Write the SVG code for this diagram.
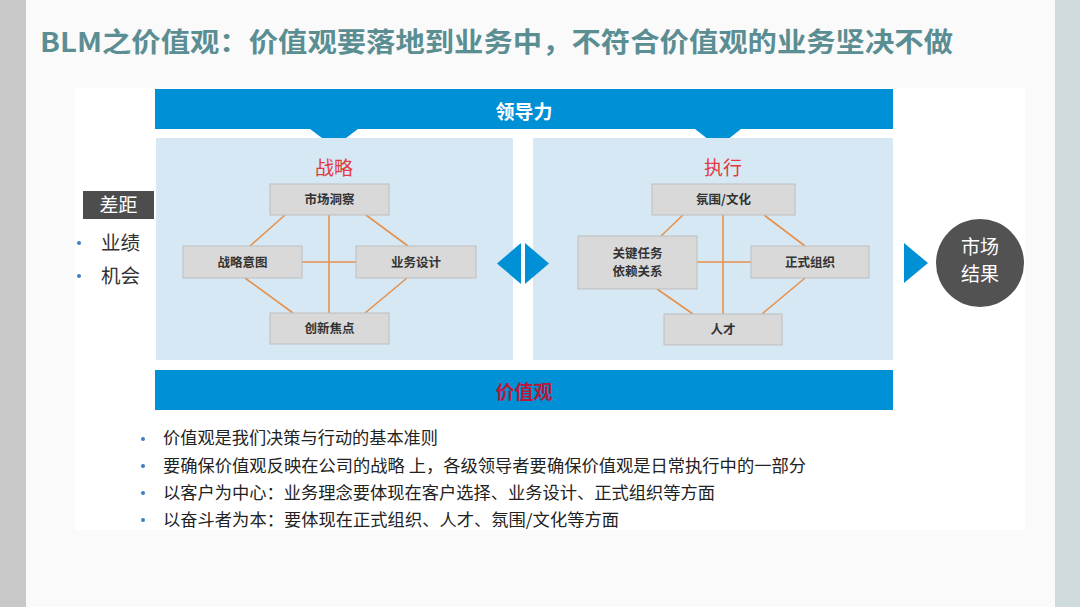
<svg xmlns="http://www.w3.org/2000/svg" width="1080" height="607" viewBox="0 0 1080 607">
<defs>
<style>
.cjk{font-family:"Noto Sans CJK SC","Noto Sans",sans-serif}
.box{fill:#d9d9d9;stroke:#bdbdbd;stroke-width:1}
.blab{font-family:"Noto Sans CJK SC",sans-serif;font-size:12.5px;font-weight:bold;fill:#333;text-anchor:middle}
.ln{stroke:#e8914a;stroke-width:1.6;fill:none}
.panel{fill:#d5e8f4}
.bar{fill:#0090d6}
.tri{fill:#0090d6}
.bul{font-family:"Noto Sans CJK SC",sans-serif;font-size:16.5px;fill:#222}
.dot{fill:#3a7fc1}
</style>
</defs>
<rect x="0" y="0" width="1080" height="607" fill="#fafafa"/>
<rect x="0" y="0" width="26" height="607" fill="#c8c8c8"/>
<rect x="1055" y="0" width="25" height="607" fill="#cfdadd"/>
<rect x="75" y="88" width="950" height="442" fill="#ffffff"/>
<text x="40" y="52" class="cjk" font-size="27" font-weight="bold" fill="#5a8e92" textLength="913" lengthAdjust="spacingAndGlyphs">BLM之价值观：价值观要落地到业务中，不符合价值观的业务坚决不做</text>

<g id="leadership">
<rect class="bar" x="155" y="89" width="738" height="40"/>
<polygon class="tri" points="310,129 358,129 334,147"/>
<polygon class="tri" points="695,129 741,129 718,147"/>
<text x="524" y="119" class="cjk" font-size="19" font-weight="bold" fill="#fff" text-anchor="middle">领导力</text>
</g>

<g id="values-bar">
<rect class="bar" x="155" y="370" width="738" height="40"/>
<text x="524" y="399" class="cjk" font-size="19" font-weight="bold" fill="#b8183a" text-anchor="middle">价值观</text>
</g>

<g id="strategy-panel">
<rect class="panel" x="156" y="138" width="357" height="222"/>
<text x="334" y="175" class="cjk" font-size="19" fill="#e03a3e" text-anchor="middle">战略</text>
</g>
<g id="execution-panel">
<rect class="panel" x="533" y="138" width="360" height="222"/>
<text x="723" y="175" class="cjk" font-size="19" fill="#e03a3e" text-anchor="middle">执行</text>
</g>

<g id="connectors">
<line class="ln" x1="329" y1="215" x2="329" y2="313"/>
<line class="ln" x1="302" y1="262" x2="356" y2="262"/>
<line class="ln" x1="285" y1="215" x2="250" y2="246"/>
<line class="ln" x1="366" y1="215" x2="408" y2="246"/>
<line class="ln" x1="245" y1="278" x2="293" y2="313"/>
<line class="ln" x1="407" y1="278" x2="365" y2="313"/>
<line class="ln" x1="723" y1="215" x2="723" y2="314"/>
<line class="ln" x1="697" y1="262" x2="751" y2="262"/>
<line class="ln" x1="683" y1="215" x2="661" y2="236"/>
<line class="ln" x1="764" y1="215" x2="805" y2="246"/>
<line class="ln" x1="657" y1="289" x2="693" y2="314"/>
<line class="ln" x1="805" y1="278" x2="762" y2="314"/>
</g>

<g id="n-market-insight"><rect class="box" x="270" y="184" width="119" height="31"/><text class="blab" x="329.5" y="204">市场洞察</text></g>
<g id="n-strategic-intent"><rect class="box" x="183" y="246" width="119" height="32"/><text class="blab" x="242.5" y="266.5">战略意图</text></g>
<g id="n-business-design"><rect class="box" x="356" y="246" width="120" height="32"/><text class="blab" x="416" y="266.5">业务设计</text></g>
<g id="n-innovation"><rect class="box" x="270" y="313" width="119" height="31"/><text class="blab" x="329.5" y="333">创新焦点</text></g>

<g id="n-culture"><rect class="box" x="652" y="184" width="143" height="31"/><text class="blab" x="723.5" y="204">氛围/文化</text></g>
<g id="n-key-tasks"><rect class="box" x="578" y="236" width="119" height="53"/><text class="blab" x="637.5" y="258">关键任务</text><text class="blab" x="637.5" y="276">依赖关系</text></g>
<g id="n-formal-org"><rect class="box" x="751" y="246" width="118" height="32"/><text class="blab" x="810" y="266.5">正式组织</text></g>
<g id="n-talent"><rect class="box" x="664" y="314" width="118" height="31"/><text class="blab" x="723" y="334">人才</text></g>

<g id="double-arrow">
<polygon class="tri" points="521,243 521,284 497,263.5"/>
<polygon class="tri" points="525,243 525,284 549,263.5"/>
</g>
<g id="arrow-result">
<polygon class="tri" points="904,243 904,283 928,263"/>
</g>

<g id="n-market-result">
<circle cx="980" cy="263" r="44" fill="#525252"/>
<text x="980" y="254" class="cjk" font-size="19" fill="#fff" text-anchor="middle">市场</text>
<text x="980" y="281" class="cjk" font-size="19" fill="#fff" text-anchor="middle">结果</text>
</g>

<g id="n-gap">
<rect x="83" y="191" width="71" height="28" fill="#4d4d4d"/>
<text x="118.5" y="212" class="cjk" font-size="19" fill="#fff" text-anchor="middle">差距</text>
<circle class="dot" cx="79" cy="243" r="2"/>
<text x="101" y="250" class="cjk" font-size="19.5" fill="#333">业绩</text>
<circle class="dot" cx="79" cy="276" r="2"/>
<text x="101" y="283" class="cjk" font-size="19.5" fill="#333">机会</text>
</g>

<g id="bullets">
<circle class="dot" cx="143" cy="439" r="2"/>
<text class="bul" x="163" y="444" textLength="275" lengthAdjust="spacingAndGlyphs">价值观是我们决策与行动的基本准则</text>
<circle class="dot" cx="143" cy="466" r="2"/>
<text class="bul" x="163" y="472" textLength="643" lengthAdjust="spacingAndGlyphs">要确保价值观反映在公司的战略 上，各级领导者要确保价值观是日常执行中的一部分</text>
<circle class="dot" cx="143" cy="493" r="2"/>
<text class="bul" x="163" y="499" textLength="552" lengthAdjust="spacingAndGlyphs">以客户为中心：业务理念要体现在客户选择、业务设计、正式组织等方面</text>
<circle class="dot" cx="143" cy="520" r="2"/>
<text class="bul" x="163" y="526" textLength="456" lengthAdjust="spacingAndGlyphs">以奋斗者为本：要体现在正式组织、人才、氛围/文化等方面</text>
</g>
</svg>
